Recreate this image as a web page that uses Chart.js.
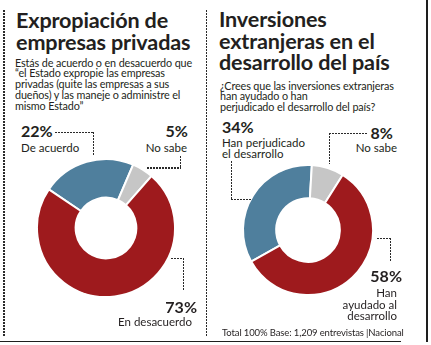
<!DOCTYPE html>
<html>
<head>
<meta charset="utf-8">
<script src="https://cdn.jsdelivr.net/npm/chart.js@4"></script>
<style>
  html, body { margin: 0; padding: 0; background: #fff; }
  #page { position: relative; width: 431px; height: 345px; overflow: hidden; font-family: Lato, "Open Sans", sans-serif; color: #231f20; }
  .abs { position: absolute; white-space: nowrap; }
  .title { font-weight: 700; font-size: 21.6px; line-height: 21.5px; letter-spacing: -0.15px; color: #231f20; }
  .sub { font-size: 10.8px; line-height: 10.9px; letter-spacing: -0.12px; }
  .pct { font-weight: 700; font-size: 16px; line-height: 16px; }
  .lbl { font-size: 11.5px; line-height: 11.5px; }
  .r { text-align: right; }
  .dh { position: absolute; height: 1.6px; background: repeating-linear-gradient(to right, #2a2a2a 0 1.6px, transparent 1.6px 3px); }
  .dv { position: absolute; width: 1.6px; background: repeating-linear-gradient(to bottom, #2a2a2a 0 1.6px, transparent 1.6px 3px); }
  .solid { position: absolute; background: #1e1e1e; }
  .donut { position: absolute; }
  .foot { font-size: 9.5px; line-height: 10px; letter-spacing: -0.12px; }
</style>
</head>
<body>
<div id="page">
  <!-- panel rules -->
  <div class="dv" style="left:3px; top:10px; height:326px;"></div>
  <div class="dv" style="left:205.5px; top:10px; height:326px;"></div>
  <div class="solid" style="left:426px; top:0; width:1.6px; height:342px;"></div>
  <div class="solid" style="left:0; top:340.5px; width:401px; height:1.6px;"></div>

  <!-- left panel -->
  <div class="abs title" id="titleL" style="left:16px; top:10px;"></div>
  <div class="abs sub" id="subL" style="left:15px; top:57.5px;"></div>
  <div class="donut" style="left:34px; top:156px; width:144px; height:144px;"><canvas id="chartL" width="144" height="144"></canvas></div>
  <div class="abs pct" id="pL0" style="left:21px; top:122.5px;"></div>
  <div class="abs lbl" id="tL0" style="left:21px; top:142px;"></div>
  <div class="abs pct r" id="pL1" style="right:243px; top:122.5px;"></div>
  <div class="abs lbl r" id="tL1" style="right:244px; top:142px;"></div>
  <div class="abs pct r" id="pL2" style="right:234px; top:298.5px;"></div>
  <div class="abs lbl r" id="tL2" style="right:239px; top:316px;"></div>

  <div class="dh" style="left:55px; top:131.5px; width:39px;"></div>
  <div class="dv" style="left:92.5px; top:131.5px; height:24px;"></div>
  <div class="dh" style="left:147px; top:167px; width:34px;"></div>
  <div class="dv" style="left:179.5px; top:156px; height:12px;"></div>
  <div class="dh" style="left:171px; top:257.5px; width:13px;"></div>
  <div class="dv" style="left:182.5px; top:257.5px; height:33px;"></div>

  <!-- right panel -->
  <div class="abs title" id="titleR" style="left:219px; top:9px;"></div>
  <div class="abs sub" id="subR" style="left:220px; top:80.5px;"></div>
  <div class="donut" style="left:240px; top:161.5px; width:136px; height:136px;"><canvas id="chartR" width="136" height="136"></canvas></div>
  <div class="abs pct" id="pR0" style="left:222px; top:118.5px;"></div>
  <div class="abs lbl" id="tR0" style="left:222px; top:137px; line-height:11px;"></div>
  <div class="abs pct r" id="pR1" style="right:38px; top:125px;"></div>
  <div class="abs lbl r" id="tR1" style="right:34px; top:142px;"></div>
  <div class="abs pct r" id="pR2" style="right:29px; top:267.5px;"></div>
  <div class="abs lbl r" id="tR2" style="right:34px; top:287px; line-height:11.7px;"></div>

  <div class="dv" style="left:230.5px; top:161px; height:39px;"></div>
  <div class="dh" style="left:230.5px; top:198.5px; width:20px;"></div>
  <div class="dh" style="left:328.5px; top:132.5px; width:38px;"></div>
  <div class="dv" style="left:328.5px; top:132.5px; height:31px;"></div>
  <div class="dh" style="left:377px; top:237.5px; width:14px;"></div>
  <div class="dv" style="left:389.5px; top:237.5px; height:23px;"></div>

  <div class="abs foot" id="foot" style="left:222px; top:328px;"></div>
</div>

<script>
// Survey 1: expropriation of private companies
const leftCategories = ['De acuerdo', 'No sabe', 'En desacuerdo'];
const leftValues = [22, 5, 73];

// Survey 2: foreign investment and the country's development
const rightCategories = ['Han perjudicado<br>el desarrollo', 'No sabe', 'Han<br>ayudado al<br>desarrollo'];
const rightValues = [34, 8, 58];

const sliceColors = ['#4f7f9d', '#c6c6c6', '#9e1a1d'];

const titleLeft = 'Expropiación de<br>empresas privadas';
const subLeft = 'Estás de acuerdo o en desacuerdo que<br>“el Estado expropie las empresas<br>privadas (quite las empresas a sus<br>dueños) y las maneje o administre el<br>mismo Estado”';
const titleRight = 'Inversiones<br>extranjeras en el<br>desarrollo del país';
const subRight = '¿Crees que las inversiones extranjeras<br>han ayudado o han<br>perjudicado el desarrollo del país?';
const footNote = 'Total 100% Base: 1,209 entrevistas |Nacional';

document.getElementById('titleL').innerHTML = titleLeft;
document.getElementById('subL').innerHTML = subLeft;
document.getElementById('titleR').innerHTML = titleRight;
document.getElementById('subR').innerHTML = subRight;
document.getElementById('foot').textContent = footNote;

leftValues.forEach((v, i) => {
  document.getElementById('pL' + i).textContent = v + '%';
  document.getElementById('tL' + i).innerHTML = leftCategories[i];
});
rightValues.forEach((v, i) => {
  document.getElementById('pR' + i).textContent = v + '%';
  document.getElementById('tR' + i).innerHTML = rightCategories[i];
});

function donut(id, labels, values, rotation, cutout) {
  return new Chart(document.getElementById(id), {
    type: 'doughnut',
    data: {
      labels: labels.map(l => l.replace(/<br>/g, ' ')),
      datasets: [{
        data: values,
        backgroundColor: sliceColors,
        borderColor: '#ffffff',
        borderWidth: 2
      }]
    },
    options: {
      responsive: false,
      animation: false,
      devicePixelRatio: 1,
      rotation: rotation,
      cutout: cutout,
      layout: { padding: 2 },
      plugins: { legend: { display: false }, tooltip: { enabled: false } }
    }
  });
}

donut('chartL', leftCategories, leftValues, -56, '44%');
donut('chartR', rightCategories, rightValues, -119, '49%');
</script>
</body>
</html>
